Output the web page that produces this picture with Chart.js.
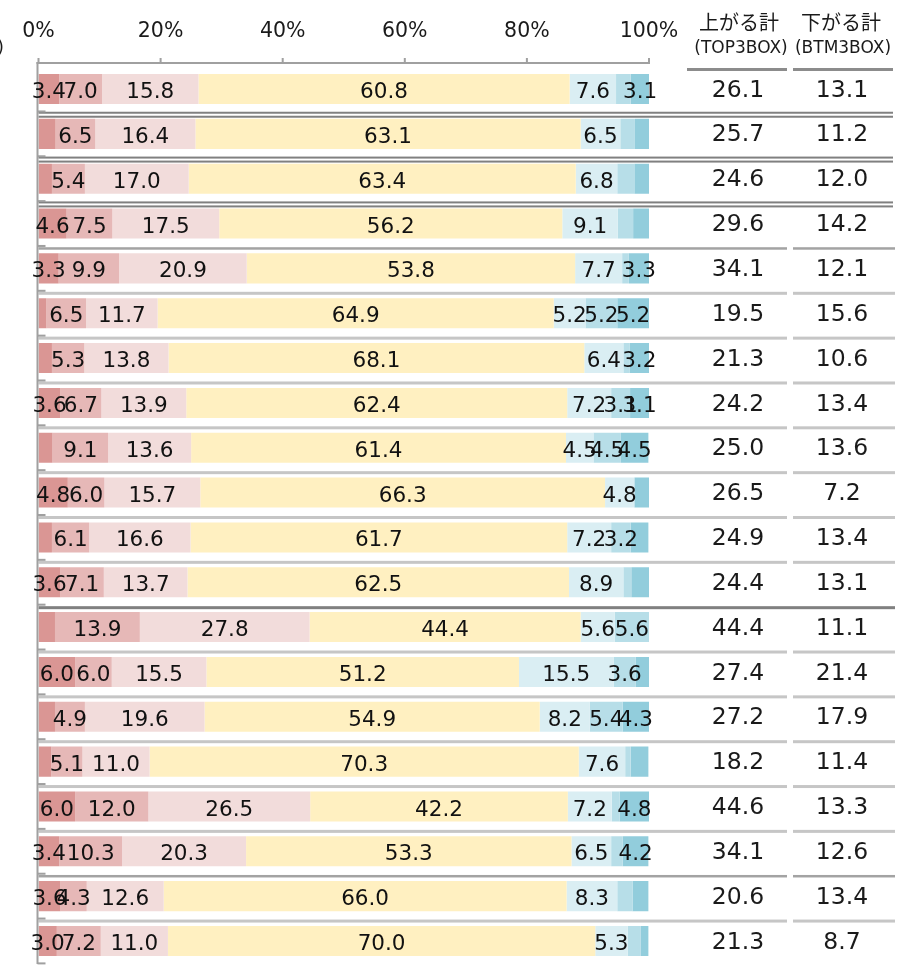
<!DOCTYPE html>
<html>
<head>
<meta charset="utf-8">
<script src="https://cdn.jsdelivr.net/npm/chart.js@4/dist/chart.umd.min.js"></script>
<style>
  html, body { margin: 0; padding: 0; background: #ffffff; }
  #wrap { position: relative; width: 916px; height: 965px; }
</style>
</head>
<body>
<div id="wrap"><canvas id="c" width="916" height="965"></canvas></div>
<script>
// Rows of the survey (top to bottom)
const categories = ['1','2','3','4','5','6','7','8','9','10','11','12','13','14','15','16','17','18','19','20'];

// Shares (%) per answer band, strongest "up" to strongest "down"
const upStrong  = [3.4, 2.8, 2.2, 4.6, 3.3, 1.3, 2.2, 3.6, 2.3, 4.8, 2.2, 3.6, 2.7, 6.0, 2.7, 2.1, 6.0, 3.4, 3.6, 3.0];
const upMid     = [7.0, 6.5, 5.4, 7.5, 9.9, 6.5, 5.3, 6.7, 9.1, 6.0, 6.1, 7.1, 13.9, 6.0, 4.9, 5.1, 12.0, 10.3, 4.3, 7.2];
const upWeak    = [15.8, 16.4, 17.0, 17.5, 20.9, 11.7, 13.8, 13.9, 13.6, 15.7, 16.6, 13.7, 27.8, 15.5, 19.6, 11.0, 26.5, 20.3, 12.6, 11.0];
const unchanged = [60.8, 63.1, 63.4, 56.2, 53.8, 64.9, 68.1, 62.4, 61.4, 66.3, 61.7, 62.5, 44.4, 51.2, 54.9, 70.3, 42.2, 53.3, 66.0, 70.0];
const downWeak  = [7.6, 6.5, 6.8, 9.1, 7.7, 5.2, 6.4, 7.2, 4.5, 4.8, 7.2, 8.9, 5.6, 15.5, 8.2, 7.6, 7.2, 6.5, 8.3, 5.3];
const downMid   = [2.4, 2.4, 2.8, 2.5, 1.1, 5.2, 1.0, 3.1, 4.5, 0, 3.2, 1.3, 5.6, 3.6, 5.4, 0.9, 1.3, 1.9, 2.5, 2.1];
const downStrong= [3.1, 2.3, 2.4, 2.6, 3.3, 5.2, 3.2, 3.1, 4.5, 2.4, 2.9, 2.9, 0, 2.3, 4.3, 2.9, 4.8, 4.2, 2.6, 1.3];

// Totals shown in the right-hand table
const topTotals = [26.1, 25.7, 24.6, 29.6, 34.1, 19.5, 21.3, 24.2, 25.0, 26.5, 24.9, 24.4, 44.4, 27.4, 27.2, 18.2, 44.6, 34.1, 20.6, 21.3];
const btmTotals = [13.1, 11.2, 12.0, 14.2, 12.1, 15.6, 10.6, 13.4, 13.6, 7.2, 13.4, 13.1, 11.1, 21.4, 17.9, 11.4, 13.3, 12.6, 13.4, 8.7];

// Axis tick values
const xTicks = [0, 20, 40, 60, 80, 100];

// Rule drawn below each row (between row i and i+1)
const rowRules = ['double','double','double','mid','light','light','light','light','light','light','light','heavy','light','light','light','light','light','mid','light'];

const bandColors = ['#DA9694', '#E6B8B7', '#F2DCDB', '#FFF0C1', '#DAEEF3', '#B7DEE8', '#92CDDC'];
const series = [upStrong, upMid, upWeak, unchanged, downWeak, downMid, downStrong];

const FONT = '"DejaVu Sans", Verdana, sans-serif';
const CJK = '"Noto Sans CJK JP", sans-serif';

const decor = {
  id: 'decor',
  beforeDatasetsDraw(chart) {
    const ctx = chart.ctx;
    const ys = chart.scales.y;
    const left = chart.chartArea.left;
    const rect = (x0, x1, y, h, c) => { ctx.fillStyle = c; ctx.fillRect(x0, y - h / 2, x1 - x0, h); };
    const split = (y, h, c) => { rect(left, 787, y, h, c); rect(793, 895, y, h, c); };
    ctx.save();
    for (let i = 0; i < rowRules.length; i++) {
      const yb = (ys.getPixelForValue(i) + ys.getPixelForValue(i + 1)) / 2;
      const kind = rowRules[i];
      if (kind === 'double') {
        rect(left, 893, yb + 1.3, 2, '#808080');
        rect(left, 893, yb + 5.3, 2, '#808080');
      } else if (kind === 'heavy') {
        rect(left, 895, yb + 3, 3, '#808080');
      } else if (kind === 'mid') {
        split(yb + 2.5, 2.5, '#a3a3a3');
      } else {
        split(yb + 2.5, 3, '#c6c6c6');
      }
    }
    // header underlines
    rect(687, 787, 69.5, 3, '#8c8c8c');
    rect(793, 893, 69.5, 3, '#8c8c8c');
    ctx.restore();
  },
  afterDatasetsDraw(chart) {
    const ctx = chart.ctx;
    const xs = chart.scales.x;
    const ys = chart.scales.y;
    const area = chart.chartArea;
    ctx.save();

    // axes
    ctx.fillStyle = '#a0a0a0';
    ctx.fillRect(area.left - 2, 62, 2, 902);
    ctx.fillRect(area.left - 2, 62, xs.getPixelForValue(100) - area.left + 3, 2);
    xTicks.forEach(v => {
      const px = xs.getPixelForValue(v);
      ctx.fillRect(px - 1, 58, 2, 5);
    });
    const band = ys.getPixelForValue(1) - ys.getPixelForValue(0);
    for (let i = 0; i < categories.length; i++) {
      const yb = ys.getPixelForValue(i) + band / 2;
      ctx.fillRect(area.left - 1, yb - 1, 8, 2);
    }

    // values inside bars
    ctx.font = '21.5px ' + FONT;
    ctx.fillStyle = '#111111';
    ctx.textAlign = 'center';
    ctx.textBaseline = 'middle';
    chart.data.datasets.forEach((ds, di) => {
      const meta = chart.getDatasetMeta(di);
      meta.data.forEach((el, i) => {
        const v = ds.data[i];
        if (v < 3) return;
        const p = el.getProps(['x', 'y', 'base'], true);
        ctx.fillText(v.toFixed(1), (p.x + p.base) / 2, p.y + 3.5);
      });
    });

    // right-hand table
    ctx.font = '23.5px ' + FONT;
    ctx.fillStyle = '#1a1a1a';
    for (let i = 0; i < categories.length; i++) {
      const y = ys.getPixelForValue(i) + 1.5;
      ctx.fillText(topTotals[i].toFixed(1), 738, y);
      ctx.fillText(btmTotals[i].toFixed(1), 842, y);
    }
    ctx.font = '20px ' + CJK;
    ctx.fillText('上がる計', 739, 22);
    ctx.fillText('下がる計', 841, 22);
    ctx.font = '17px ' + FONT;
    ctx.fillText('(TOP3BOX)', 741, 49);
    ctx.fillText('(BTM3BOX)', 843, 49);
    ctx.textAlign = 'right';
    ctx.fillText('(%)', 4, 49);
    ctx.restore();
  }
};

new Chart(document.getElementById('c'), {
  type: 'bar',
  data: {
    labels: categories,
    datasets: series.map((d, i) => ({
      data: d,
      backgroundColor: bandColors[i],
      borderWidth: 0,
      barPercentage: 0.67,
      categoryPercentage: 1.0
    }))
  },
  options: {
    indexAxis: 'y',
    responsive: false,
    animation: false,
    events: [],
    layout: { padding: { left: 38.5, right: 267, top: 0, bottom: 1.6 } },
    plugins: { legend: { display: false }, tooltip: { enabled: false } },
    scales: {
      x: {
        position: 'top',
        stacked: true,
        min: 0,
        max: 100,
        grid: { display: false },
        border: { display: false },
        afterBuildTicks: s => { s.ticks = xTicks.map(v => ({ value: v })); },
        afterFit: s => { s.height = 66.6; },
        ticks: {
          padding: 15,
          color: '#1a1a1a',
          font: { family: FONT, size: 20.5 },
          maxRotation: 0,
          callback: v => v + '%'
        }
      },
      y: {
        stacked: true,
        display: false
      }
    }
  },
  plugins: [decor]
});
</script>
</body>
</html>
